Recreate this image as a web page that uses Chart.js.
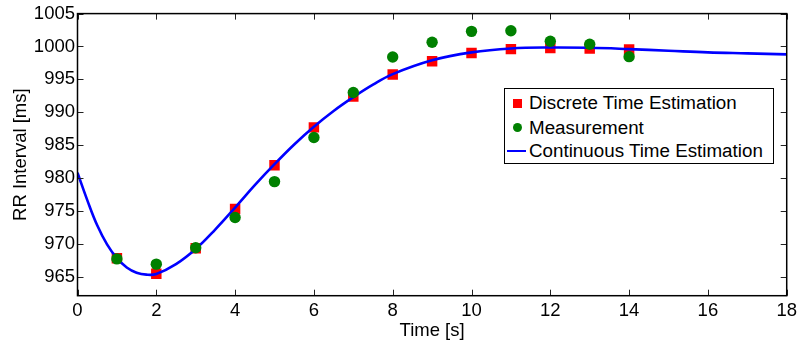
<!DOCTYPE html>
<html>
<head>
<meta charset="utf-8">
<script src="https://cdn.jsdelivr.net/npm/chart.js@4/dist/chart.umd.min.js"></script>
<style>
  body { margin: 0; background: #fff; }
  #wrap { position: relative; width: 801px; height: 348px; }
  #legend {
    position: absolute; left: 504px; top: 88px; width: 270px; height: 76px;
    box-sizing: border-box; border: 1.5px solid #000; background: #fff;
    font-family: "Liberation Sans", Arial, sans-serif; font-size: 18.8px; color: #000;
  }
  .row { position: absolute; left: 0; right: 0; height: 22px; line-height: 22px; }
  .row .txt { position: absolute; left: 24px; white-space: nowrap; }
  .mk { position: absolute; }
</style>
</head>
<body>
<div id="wrap">
  <canvas id="rrChart"></canvas>
  <div id="legend"></div>
</div>
<script>
// ---- data ----
const sampleTime  = [1, 2, 3, 4, 5, 6, 7, 8, 9, 10, 11, 12, 13, 14];
const discreteRR  = [967.8, 965.45, 969.3, 975.3, 981.95, 987.7, 992.4, 995.75, 997.75, 999.0, 999.6, 999.75, 999.7, 999.55];
const measuredRR  = [967.7, 966.9, 969.4, 974.0, 979.45, 986.15, 993.0, 998.4, 1000.65, 1002.3, 1002.4, 1000.8, 1000.35, 998.45];

const curveTime = [0, 0.25, 0.5, 0.75, 1, 1.25, 1.5, 1.75, 2, 2.5, 3, 3.5, 4, 4.5, 5, 5.5, 6, 6.5, 7, 7.5, 8, 9, 10, 11, 12, 13, 14, 15, 16, 17, 18];
const curveRR   = [980.8, 976.6, 972.8, 969.9, 967.8, 966.4, 965.6, 965.3, 965.4, 966.9, 969.2, 972.2, 975.5, 978.9, 982.1, 985.1, 987.8, 990.2, 992.3, 994.2, 995.8, 997.9, 999.1, 999.7, 999.85, 999.8, 999.6, 999.35, 999.1, 998.95, 998.8];

const yTicks = [965, 970, 975, 980, 985, 990, 995, 1000, 1005];
const xTicks = [0, 2, 4, 6, 8, 10, 12, 14, 16, 18];

const seriesLabels = ['Discrete Time Estimation', 'Measurement', 'Continuous Time Estimation'];
const RED = '#ff0000', GREEN = '#008000', BLUE = '#0000ff';

const toXY = (xs, ys) => xs.map((x, i) => ({ x: x, y: ys[i] }));

Chart.defaults.font.family = '"Liberation Sans", Arial, sans-serif';
Chart.defaults.color = '#000';

// matlab style box with inward ticks
const framePlugin = {
  id: 'frame',
  afterDatasetsDraw(chart) {
    const { ctx, chartArea: a, scales } = chart;
    const tl = 6;
    ctx.save();
    ctx.strokeStyle = '#222';
    ctx.lineWidth = 1;
    ctx.beginPath();
    scales.x.ticks.forEach(t => {
      const px = Math.round(scales.x.getPixelForValue(t.value)) + 0.5;
      ctx.moveTo(px, a.bottom); ctx.lineTo(px, a.bottom - tl);
      ctx.moveTo(px, a.top);    ctx.lineTo(px, a.top + tl);
    });
    scales.y.ticks.forEach(t => {
      const py = Math.round(scales.y.getPixelForValue(t.value)) + 0.5;
      ctx.moveTo(a.left, py);  ctx.lineTo(a.left + tl, py);
      ctx.moveTo(a.right, py); ctx.lineTo(a.right - tl, py);
    });
    ctx.stroke();
    ctx.strokeStyle = '#000';
    ctx.lineWidth = 1.5;
    ctx.strokeRect(a.left, a.top, a.right - a.left, a.bottom - a.top);
    ctx.restore();
  }
};

const chart = new Chart(document.getElementById('rrChart'), {
  type: 'scatter',
  data: {
    datasets: [
      {
        label: seriesLabels[0],
        data: toXY(sampleTime, discreteRR),
        pointStyle: 'rect',
        pointRadius: 7.4,
        pointHoverRadius: 7.4,
        backgroundColor: RED,
        borderColor: RED,
        borderWidth: 0,
        order: 2
      },
      {
        label: seriesLabels[1],
        data: toXY(sampleTime, measuredRR),
        pointStyle: 'circle',
        pointRadius: 5.7,
        pointHoverRadius: 5.7,
        backgroundColor: GREEN,
        borderColor: GREEN,
        borderWidth: 0,
        order: 0
      },
      {
        label: seriesLabels[2],
        data: toXY(curveTime, curveRR),
        showLine: true,
        pointRadius: 0,
        borderColor: BLUE,
        backgroundColor: BLUE,
        borderWidth: 2.6,
        tension: 0.4,
        order: 1
      }
    ]
  },
  options: {
    responsive: true,
    maintainAspectRatio: false,
    animation: false,
    layout: { padding: { left: 0, right: 11.5, top: 9.5, bottom: 0 } },
    plugins: {
      legend: { display: false },
      tooltip: { enabled: false }
    },
    scales: {
      x: {
        type: 'linear',
        min: 0, max: 18,
        afterBuildTicks: s => { s.ticks = xTicks.map(v => ({ value: v })); },
        afterFit: s => { s.height = 52.3; },
        grid: { display: false, drawTicks: false },
        border: { display: false },
        ticks: { padding: 4, font: { size: 18.5 }, color: '#000', callback: v => String(v) },
        title: { display: true, text: 'Time [s]', font: { size: 18.5 }, padding: { top: 0, bottom: 6 } }
      },
      y: {
        min: 962.1, max: 1005,
        afterBuildTicks: s => { s.ticks = yTicks.map(v => ({ value: v })); },
        afterFit: s => { s.width = 77.5; },
        grid: { display: false, drawTicks: false },
        border: { display: false },
        ticks: { padding: 2.5, font: { size: 18.5 }, color: '#000', callback: v => String(v) },
        title: { display: true, text: 'RR Interval [ms]', font: { size: 18.5 }, padding: { top: 10, bottom: 0 } }
      }
    }
  },
  plugins: [framePlugin]
});

// html legend inside the axes, in dataset order
function buildLegend() {
  const box = document.getElementById('legend');
  const rowCenters = [14, 38.5, 62];
  chart.data.datasets.forEach((ds, i) => {
    const row = document.createElement('div');
    row.className = 'row';
    row.style.top = (rowCenters[i] - 11) + 'px';
    const mk = document.createElement('span');
    mk.className = 'mk';
    if (ds.pointStyle === 'rect') {
      Object.assign(mk.style, { left: '8px', top: '6.5px', width: '9px', height: '9px', background: ds.backgroundColor });
    } else if (ds.showLine) {
      Object.assign(mk.style, { left: '2px', top: '9.7px', width: '19px', height: '2.6px', background: ds.borderColor });
    } else {
      Object.assign(mk.style, { left: '7.5px', top: '6.2px', width: '9.6px', height: '9.6px', borderRadius: '50%', background: ds.backgroundColor });
    }
    const txt = document.createElement('span');
    txt.className = 'txt';
    txt.textContent = ds.label;
    row.appendChild(mk);
    row.appendChild(txt);
    box.appendChild(row);
  });
}
buildLegend();
</script>
</body>
</html>
